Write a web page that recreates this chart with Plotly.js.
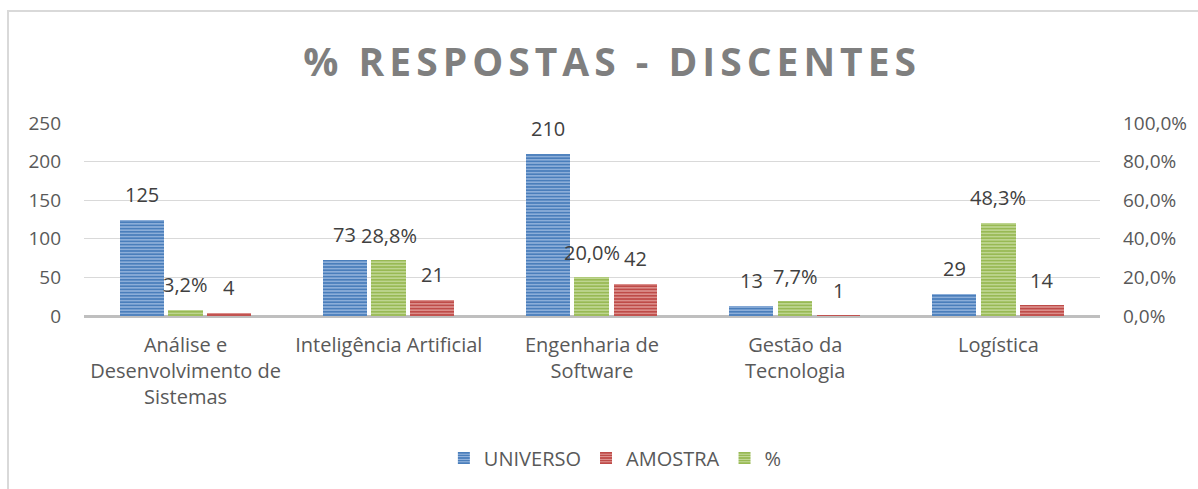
<!DOCTYPE html>
<html>
<head>
<meta charset="utf-8">
<script src="https://cdn.plot.ly/plotly-3.0.1.min.js"></script>
<style>
  html, body { margin:0; padding:0; background:#fff; overflow:hidden; }
  #wrap { position:relative; width:1198px; height:489px; }
  #chart { position:absolute; left:0; top:0; width:1198px; height:489px; }
  #frame { position:absolute; left:7px; top:10px; width:1400px; height:700px; border:2px solid #d9d9d9; pointer-events:none; }
  .gtitle { letter-spacing: 5px; }
</style>
</head>
<body>
<div id="wrap">
  <div id="chart"></div>
  <div id="frame"></div>
</div>
<script>
const categories = ["Análise e<br>Desenvolvimento de<br>Sistemas", "Inteligência Artificial", "Engenharia de<br>Software", "Gestão da<br>Tecnologia", "Logística"];
const universo = [125, 73, 210, 13, 29];
const amostra = [4, 21, 42, 1, 14];
const percent = [3.2, 28.8, 20.0, 7.7, 48.3];

const idx = categories.map((_, i) => i);
const FONT = "'Open Sans', 'Liberation Sans', sans-serif";

function striped(bg, fg) {
  return { color: bg, pattern: { shape: '-', bgcolor: bg, fgcolor: fg, size: 3.2, solidity: 0.35, fillmode: 'replace' }, line: { width: 0 } };
}

const geo = {
  uni: { offset: -0.325, width: 0.217 },
  pct: { offset: -0.087, width: 0.172 },
  amo: { offset: 0.106, width: 0.215 }
};

const traces = [
  { type: 'bar', name: 'UNIVERSO', x: idx, y: universo, offset: geo.uni.offset, width: geo.uni.width,
    marker: striped('#4a7ebb', '#a9c3e6'), yaxis: 'y', hoverinfo: 'none' },
  { type: 'bar', name: 'AMOSTRA', x: idx, y: amostra, offset: geo.amo.offset, width: geo.amo.width,
    marker: striped('#be4b48', '#e8a9a7'), yaxis: 'y', hoverinfo: 'none' },
  { type: 'bar', name: '%', x: idx, y: percent.map(v => v / 100), offset: geo.pct.offset, width: geo.pct.width,
    marker: striped('#98b954', '#cfe1aa'), yaxis: 'y2', hoverinfo: 'none' }
];

const annFont = { family: FONT, size: 20, color: '#404040' };
const annotations = [];
idx.forEach(i => {
  annotations.push({ x: i + geo.uni.offset + geo.uni.width / 2, y: universo[i], xref: 'x', yref: 'y',
    text: String(universo[i]), showarrow: false, yanchor: 'middle', yshift: 25, font: annFont });
  annotations.push({ x: i + geo.amo.offset + geo.amo.width / 2, y: amostra[i], xref: 'x', yref: 'y',
    text: String(amostra[i]), showarrow: false, yanchor: 'middle', yshift: 25, font: annFont });
  annotations.push({ x: i + geo.pct.offset + geo.pct.width / 2, y: percent[i] / 100, xref: 'x', yref: 'y2',
    text: percent[i].toFixed(1).replace('.', ',') + '%', showarrow: false, yanchor: 'middle', yshift: 25, font: annFont });
});

const yTickFont = { family: FONT, size: 19, color: '#595959' };
const xTickFont = { family: FONT, size: 20, color: '#595959' };

const layout = {
  width: 1198, height: 489,
  margin: { l: 84, r: 98, t: 123, b: 173 },
  paper_bgcolor: 'rgba(0,0,0,0)', plot_bgcolor: '#fff',
  separators: ',.',
  showlegend: true,
  title: { text: '% RESPOSTAS - DISCENTES', x: 0.511, xref: 'container', xanchor: 'center',
           y: 1 - 62 / 489, yref: 'container', yanchor: 'middle',
           font: { family: FONT, size: 39, color: '#7f7f7f', weight: 'bold' } },
  xaxis: { range: [-0.5, 4.5], tickmode: 'array', tickvals: idx, ticktext: categories,
           showgrid: false, zeroline: false, showline: false, ticks: '', ticklabelstandoff: 15,
           tickfont: xTickFont, fixedrange: true },
  yaxis: { range: [0, 250], dtick: 50, tick0: 0, showgrid: true, gridcolor: '#d9d9d9', gridwidth: 1,
           zeroline: true, zerolinecolor: '#bfbfbf', zerolinewidth: 3, showline: false, ticks: '',
           ticklabelstandoff: 22, tickfont: yTickFont, fixedrange: true },
  yaxis2: { range: [0, 1], dtick: 0.2, tick0: 0, tickformat: '.1%', overlaying: 'y', side: 'right',
            showgrid: false, zeroline: false, showline: false, ticks: '', ticklabelstandoff: 22,
            tickfont: yTickFont, fixedrange: true },
  legend: { orientation: 'h', x: 0.523, xanchor: 'center', y: (316 - 458) / 193, yanchor: 'middle',
            font: { family: FONT, size: 20, color: '#595959' }, traceorder: 'normal', itemwidth: 30 },
  annotations: annotations,
  bargap: 0
};

Plotly.newPlot('chart', traces, layout, { displayModeBar: false, staticPlot: true });
</script>
</body>
</html>
